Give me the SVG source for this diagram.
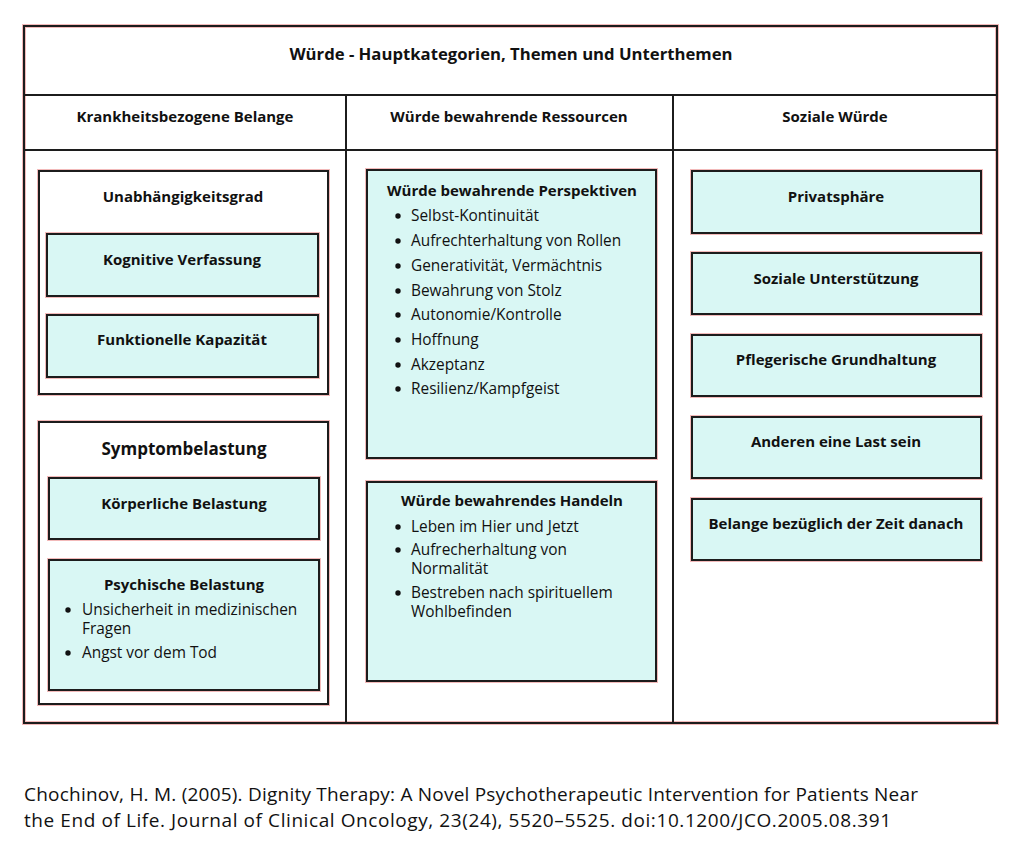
<svg xmlns="http://www.w3.org/2000/svg" width="1024" height="854" viewBox="0 0 1024 854">
<style>
.frame{fill:none;stroke:#1c1c1c;stroke-width:2}
.halo{fill:none;stroke:#f2b9b9;stroke-width:4}
.box{fill:#ffffff}
.teal{fill:#d9f7f4}
text{font-family:"Open Sans","Liberation Sans",sans-serif;fill:#111}
.t{font-size:16.7px;font-weight:bold;text-anchor:middle}
.h{font-size:15px;font-weight:bold;text-anchor:middle}
.c{font-size:15px;font-weight:bold;text-anchor:middle}
.r{font-size:15.4px}
.f{font-size:19px}
</style>
<rect x="0" y="0" width="1024" height="854" fill="#ffffff"/>
<g id="table">
<rect class="halo" x="24" y="26" width="973" height="697"/>
<rect class="frame" x="24" y="26" width="973" height="697"/>
<line class="frame" x1="24" y1="95" x2="997" y2="95"/>
<line class="frame" x1="24" y1="150" x2="997" y2="150"/>
<line class="frame" x1="346" y1="95" x2="346" y2="723"/>
<line class="frame" x1="673" y1="95" x2="673" y2="723"/>
</g>
<g id="title"><text class="t" x="511" y="60">Würde - Hauptkategorien, Themen und Unterthemen</text></g>
<g id="header1"><text class="h" x="185" y="122">Krankheitsbezogene Belange</text></g>
<g id="header2"><text class="h" x="509" y="122">Würde bewahrende Ressourcen</text></g>
<g id="header3"><text class="h" x="835" y="122">Soziale Würde</text></g>

<g id="unabhaengigkeitsgrad">
<rect class="halo" x="39" y="171" width="289" height="223"/>
<rect class="box" x="39" y="171" width="289" height="223"/>
<rect class="frame" x="39" y="171" width="289" height="223"/>
<text class="c" x="183" y="202">Unabhängigkeitsgrad</text>
</g>
<g id="kognitive">
<rect class="halo" x="47" y="234" width="271" height="62"/>
<rect class="teal" x="47" y="234" width="271" height="62"/>
<rect class="frame" x="47" y="234" width="271" height="62"/>
<text class="c" x="182" y="265">Kognitive Verfassung</text>
</g>
<g id="funktionelle">
<rect class="halo" x="47" y="315" width="271" height="62"/>
<rect class="teal" x="47" y="315" width="271" height="62"/>
<rect class="frame" x="47" y="315" width="271" height="62"/>
<text class="c" x="182" y="345">Funktionelle Kapazität</text>
</g>

<g id="symptombelastung">
<rect class="halo" x="39" y="422" width="289" height="282"/>
<rect class="box" x="39" y="422" width="289" height="282"/>
<rect class="frame" x="39" y="422" width="289" height="282"/>
<text class="c" x="184" y="455" style="font-size:17px">Symptombelastung</text>
</g>
<g id="koerperliche">
<rect class="halo" x="49" y="478" width="270" height="61"/>
<rect class="teal" x="49" y="478" width="270" height="61"/>
<rect class="frame" x="49" y="478" width="270" height="61"/>
<text class="c" x="184" y="509">Körperliche Belastung</text>
</g>
<g id="psychische">
<rect class="halo" x="49" y="560" width="270" height="130"/>
<rect class="teal" x="49" y="560" width="270" height="130"/>
<rect class="frame" x="49" y="560" width="270" height="130"/>
<text class="c" x="184" y="590">Psychische Belastung</text>
<circle cx="68" cy="610" r="2.7" fill="#111"/>
<text class="r" x="82" y="615">Unsicherheit in medizinischen</text>
<text class="r" x="82" y="634">Fragen</text>
<circle cx="68" cy="653" r="2.7" fill="#111"/>
<text class="r" x="82" y="658">Angst vor dem Tod</text>
</g>

<g id="perspektiven">
<rect class="halo" x="367" y="170" width="289" height="288"/>
<rect class="teal" x="367" y="170" width="289" height="288"/>
<rect class="frame" x="367" y="170" width="289" height="288"/>
<text class="c" x="512" y="196">Würde bewahrende Perspektiven</text>
<g fill="#111">
<circle cx="398" cy="216" r="2.7"/><circle cx="398" cy="241" r="2.7"/><circle cx="398" cy="266" r="2.7"/><circle cx="398" cy="291" r="2.7"/>
<circle cx="398" cy="315" r="2.7"/><circle cx="398" cy="340" r="2.7"/><circle cx="398" cy="365" r="2.7"/><circle cx="398" cy="389" r="2.7"/>
</g>
<text class="r" x="411" y="221">Selbst-Kontinuität</text>
<text class="r" x="411" y="246">Aufrechterhaltung von Rollen</text>
<text class="r" x="411" y="271">Generativität, Vermächtnis</text>
<text class="r" x="411" y="296">Bewahrung von Stolz</text>
<text class="r" x="411" y="320">Autonomie/Kontrolle</text>
<text class="r" x="411" y="345">Hoffnung</text>
<text class="r" x="411" y="370">Akzeptanz</text>
<text class="r" x="411" y="394">Resilienz/Kampfgeist</text>
</g>

<g id="handeln">
<rect class="halo" x="367" y="482" width="289" height="199"/>
<rect class="teal" x="367" y="482" width="289" height="199"/>
<rect class="frame" x="367" y="482" width="289" height="199"/>
<text class="c" x="512" y="506">Würde bewahrendes Handeln</text>
<g fill="#111">
<circle cx="398" cy="527" r="2.7"/><circle cx="398" cy="550" r="2.7"/><circle cx="398" cy="593" r="2.7"/>
</g>
<text class="r" x="411" y="532">Leben im Hier und Jetzt</text>
<text class="r" x="411" y="555">Aufrecherhaltung von</text>
<text class="r" x="411" y="574">Normalität</text>
<text class="r" x="411" y="598">Bestreben nach spirituellem</text>
<text class="r" x="411" y="617">Wohlbefinden</text>
</g>

<g id="privatsphaere">
<rect class="halo" x="692" y="171" width="289" height="62"/>
<rect class="teal" x="692" y="171" width="289" height="62"/>
<rect class="frame" x="692" y="171" width="289" height="62"/>
<text class="c" x="836" y="202">Privatsphäre</text>
</g>
<g id="soziale-unterstuetzung">
<rect class="halo" x="692" y="253" width="289" height="61"/>
<rect class="teal" x="692" y="253" width="289" height="61"/>
<rect class="frame" x="692" y="253" width="289" height="61"/>
<text class="c" x="836" y="284">Soziale Unterstützung</text>
</g>
<g id="pflegerische">
<rect class="halo" x="692" y="335" width="289" height="61"/>
<rect class="teal" x="692" y="335" width="289" height="61"/>
<rect class="frame" x="692" y="335" width="289" height="61"/>
<text class="c" x="836" y="365">Pflegerische Grundhaltung</text>
</g>
<g id="last">
<rect class="halo" x="692" y="417" width="289" height="61"/>
<rect class="teal" x="692" y="417" width="289" height="61"/>
<rect class="frame" x="692" y="417" width="289" height="61"/>
<text class="c" x="836" y="447">Anderen eine Last sein</text>
</g>
<g id="zeit-danach">
<rect class="halo" x="692" y="499" width="289" height="61"/>
<rect class="teal" x="692" y="499" width="289" height="61"/>
<rect class="frame" x="692" y="499" width="289" height="61"/>
<text class="c" x="836" y="529">Belange bezüglich der Zeit danach</text>
</g>

<g id="citation">
<text class="f" x="24" y="801" textLength="894">Chochinov, H. M. (2005). Dignity Therapy: A Novel Psychotherapeutic Intervention for Patients Near</text>
<text class="f" x="24" y="827" textLength="867">the End of Life. Journal of Clinical Oncology, 23(24), 5520–5525. doi:10.1200/JCO.2005.08.391</text>
</g>
</svg>
